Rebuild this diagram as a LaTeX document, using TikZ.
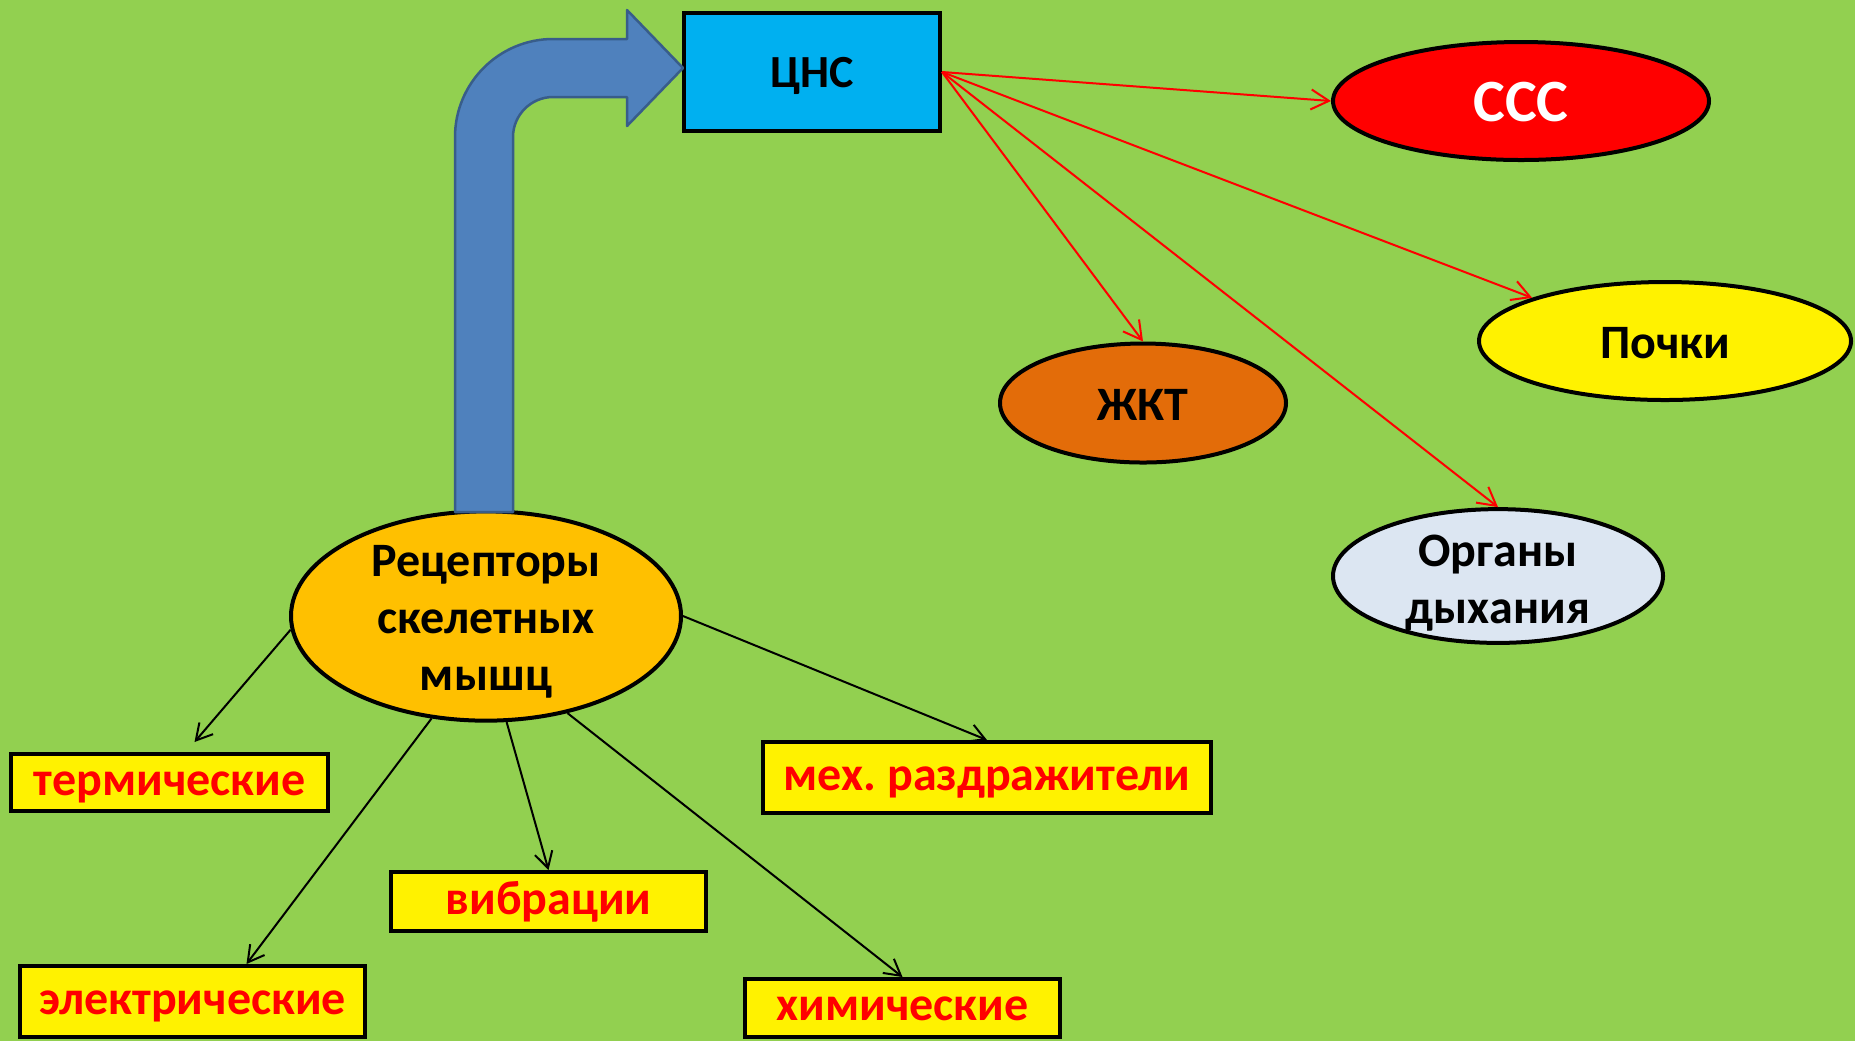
\documentclass[tikz,border=0pt]{standalone}
\usepackage{fontspec}
\setmainfont{Carlito}
\usepackage{tikz}
\usetikzlibrary{arrows.meta,shapes.geometric}

\definecolor{bggreen}{HTML}{92D050}
\definecolor{cnsblue}{HTML}{00B0F0}
\definecolor{zhktorange}{HTML}{E36C09}
\definecolor{lungblue}{HTML}{DCE6F2}
\definecolor{recgold}{HTML}{FFC000}
\definecolor{arrowfill}{HTML}{4F81BD}
\definecolor{arrowedge}{HTML}{385D8A}

\begin{document}
\begin{tikzpicture}[x=0.5pt,y=-0.5pt,
  organ/.style={ellipse,draw=black,line width=2pt,inner sep=0pt,align=center,
    font=\bfseries\fontsize{24}{28.4}\selectfont,text depth=0pt},
  stimbox/.style={rectangle,draw=black,line width=2pt,fill=yellow,text=red,inner sep=0pt,
    font=\bfseries\fontsize{24}{29}\selectfont,text height=16pt,text depth=3.3pt},
  redarr/.style={red,line width=1pt,-{Straight Barb[length=9pt,width=10pt]}},
  blackarr/.style={black,line width=1pt,-{Straight Barb[length=8pt,width=9pt]}}]
% Background
\clip (0,0) rectangle (1855,1041);
\fill[bggreen] (0,0) rectangle (1855,1041);

% Centre and organs
\node[rectangle,draw=black,line width=2pt,fill=cnsblue,minimum width=128pt,minimum height=59pt,
  font=\bfseries\fontsize{23}{28}\selectfont,text height=15.8pt,text depth=0pt] (cns) at (812,72) {ЦНС};
\node[organ,fill=red,text=white,minimum width=188pt,minimum height=59pt,
  font=\bfseries\fontsize{30}{36}\selectfont,text height=20.3pt] (ccc) at (1521,101) {ССС};
\node[organ,fill=yellow,minimum width=186pt,minimum height=59pt,text height=17pt] (pochki) at (1665,341) {Почки};
\node[organ,fill=zhktorange,minimum width=143pt,minimum height=59.5pt,text height=17.5pt] (zhkt) at (1143,403) {ЖКТ};
\node[organ,fill=lungblue,minimum width=165pt,minimum height=66pt,text height=47.3pt] (organy) at (1498,576)
  {Органы\\дыхания};

% Receptors and stimuli
\node[organ,fill=recgold,minimum width=195pt,minimum height=103.5pt,text height=74pt] (rec) at (486,616)
  {Рецепторы\\скелетных\\мышц};
\node[stimbox,minimum width=158.5pt,minimum height=28.5pt] (term) at (169.5,782.5) {термические};
\node[stimbox,minimum width=157.5pt,minimum height=29.5pt] (vibr) at (548.5,901.5) {вибрации};
\node[stimbox,minimum width=224pt,minimum height=35.5pt] (mekh) at (987,777.5) {мех.\ раздражители};
\node[stimbox,minimum width=172.5pt,minimum height=35.5pt] (elek) at (192.5,1001.5) {электрические};
\node[stimbox,minimum width=157.5pt,minimum height=29pt] (khim) at (902.5,1008) {химические};

% Block arrow up to the CNS
\filldraw[fill=arrowfill,draw=arrowedge,line width=1.25pt,line join=round]
  (455,512) -- (455,137) .. controls (455,83) and (499,39) .. (553,39) -- (627,39) -- (627,10)
  -- (683,68) -- (627,126) -- (627,97) -- (553,97) .. controls (531,97) and (513,115) .. (513,137)
  -- (513,512) -- cycle;

% CNS outputs
\draw[redarr] (cns.east) -- (ccc.west);
\draw[redarr] (cns.east) -- (pochki.162);
\draw[redarr] (cns.east) -- (zhkt.north);
\draw[redarr] (cns.east) -- (organy.north);

% Stimuli
\draw[blackarr] (rec.184) -- ([xshift=12.5pt,yshift=5pt]term.north);
\draw[blackarr] (rec.242) -- ([xshift=27pt]elek.north);
\draw[blackarr] (rec.281) -- (vibr.north);
\draw[blackarr] (rec.310) -- (khim.north);
\draw[blackarr] (rec.east) -- (mekh.north);
\end{tikzpicture}
\end{document}
